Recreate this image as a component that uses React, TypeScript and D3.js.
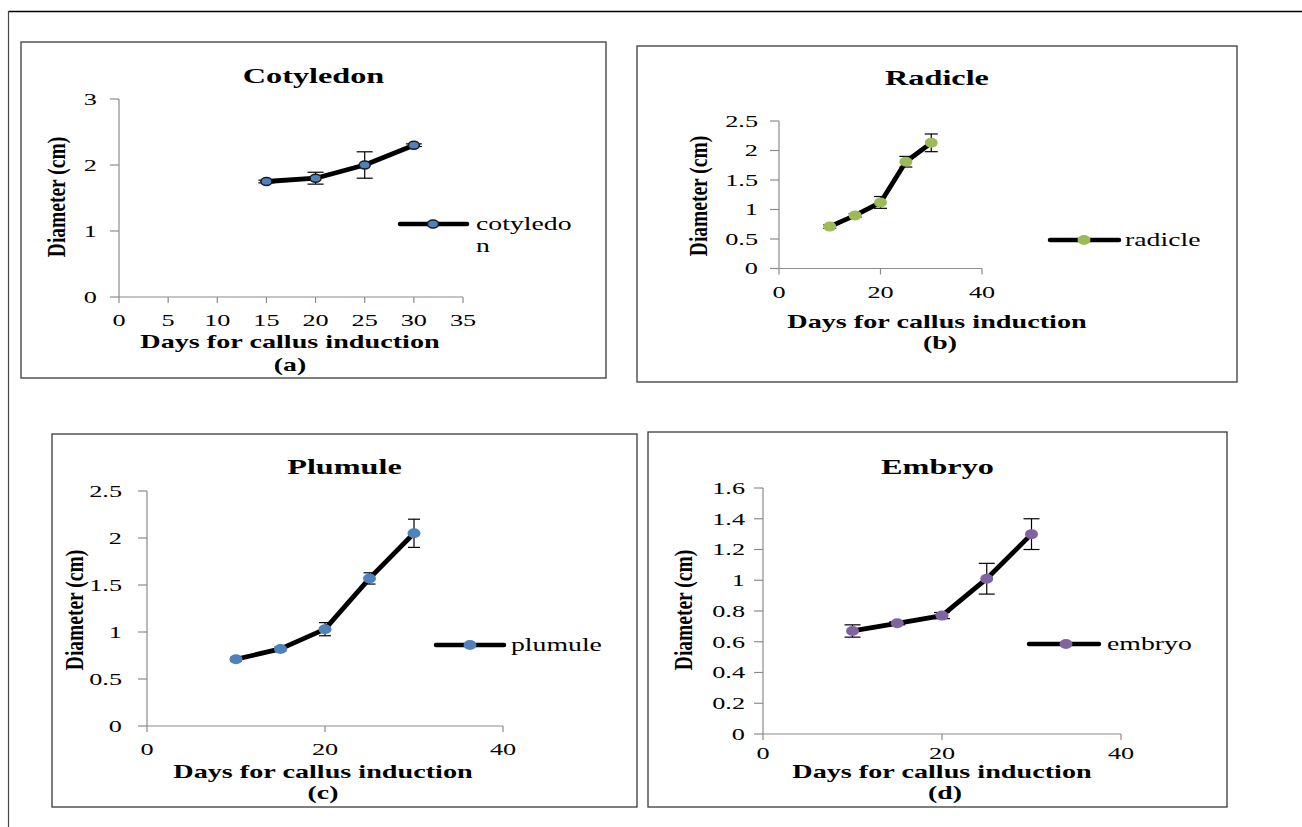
import React from "react";
import * as d3 from "d3";

// ---------- data ----------
const cotyledonDays = [15, 20, 25, 30];
const cotyledonValues = [1.75, 1.8, 2.0, 2.3];
const cotyledonErr = [0.02, 0.09, 0.2, 0.02];

const days = [10, 15, 20, 25, 30];
const radicleValues = [0.71, 0.9, 1.12, 1.81, 2.13];
const radicleErr = [0.03, 0.03, 0.1, 0.09, 0.15];

const plumuleValues = [0.71, 0.82, 1.03, 1.57, 2.05];
const plumuleErr = [0.02, 0.02, 0.07, 0.06, 0.15];

const embryoValues = [0.67, 0.72, 0.77, 1.01, 1.3];
const embryoErr = [0.04, 0.01, 0.02, 0.1, 0.1];

const xTicksA = [0, 5, 10, 15, 20, 25, 30, 35];
const yTicksA = [0, 1, 2, 3];
const xTicksB = [0, 20, 40];
const yTicksB = [0, 0.5, 1, 1.5, 2, 2.5];
const yTicksD = [0, 0.2, 0.4, 0.6, 0.8, 1, 1.2, 1.4, 1.6];

const titles = ["Cotyledon", "Radicle", "Plumule", "Embryo"];
const legendNames = [["cotyledo", "n"], ["radicle"], ["plumule"], ["embryo"]];
const subLabels = ["(a)", "(b)", "(c)", "(d)"];
const xAxisLabel = "Days for callus induction";
const yAxisLabel = "Diameter (cm)";

const FONT = "'Liberation Serif', 'Times New Roman', serif";
const SX = 1.5;

type TProps = {
  x: number; y: number; text: string; size: number; bold?: boolean;
  anchor?: "start" | "middle" | "end"; rotate?: boolean; sx?: number;
};
function T({ x, y, text, size, bold, anchor = "middle", rotate, sx = SX }: TProps) {
  return (
    <g transform={`translate(${x},${y}) scale(${sx},1)${rotate ? " rotate(-90)" : ""}`}>
      <text
        textAnchor={anchor}
        dominantBaseline="central"
        fontFamily={FONT}
        fontSize={size}
        fontWeight={bold ? "bold" : "normal"}
        fill="#000"
      >
        {text}
      </text>
    </g>
  );
}

type PanelCfg = {
  box: [number, number, number, number];
  xDomain: [number, number]; xRange: [number, number];
  yDomain: [number, number]; yRange: [number, number];
  xTicks: number[]; yTicks: number[];
  xs: number[]; ys: number[]; errs: number[];
  title: [number, number]; xTickY: number; xLabel: [number, number];
  sub: [number, number]; yLabel: [number, number]; yTickRight: number;
  legend: { x1: number; x2: number; y: number; mx: number; tx: number };
  color: string; mStroke: string | null; rx: number; ry: number; cap: number;
  idx: number;
};

function Panel({ c }: { c: PanelCfg }) {
  const x = d3.scaleLinear().domain(c.xDomain).range(c.xRange);
  const y = d3.scaleLinear().domain(c.yDomain).range(c.yRange);
  const pts: [number, number][] = c.xs.map((d, i) => [x(d), y(c.ys[i])]);
  const line = d3.line().curve(d3.curveLinear)(pts) || "";
  const [bx0, by0, bx1, by1] = c.box;
  const axisColor = "#8c8c8c";
  const fmt = (v: number) => String(+v.toFixed(2));
  return (
    <g>
      <rect x={bx0} y={by0} width={bx1 - bx0} height={by1 - by0} fill="#fff" stroke="#3a3a3a" strokeWidth={1.3} />
      <T x={c.title[0]} y={c.title[1]} text={titles[c.idx]} size={21.5} bold />
      {/* y axis */}
      <line x1={x(c.xDomain[0])} x2={x(c.xDomain[0])} y1={y(c.yDomain[0])} y2={y(c.yDomain[1])} stroke={axisColor} strokeWidth={1.2} />
      {c.yTicks.map((t) => (
        <g key={"y" + t}>
          <line x1={x(c.xDomain[0]) - 9} x2={x(c.xDomain[0])} y1={y(t)} y2={y(t)} stroke={axisColor} strokeWidth={1.2} />
          <T x={c.yTickRight} y={y(t)} text={fmt(t)} size={17.5} anchor="end" />
        </g>
      ))}
      {/* x axis */}
      <line x1={x(c.xDomain[0])} x2={x(c.xDomain[1])} y1={y(c.yDomain[0])} y2={y(c.yDomain[0])} stroke={axisColor} strokeWidth={1.2} />
      {c.xTicks.map((t) => (
        <g key={"x" + t}>
          <line x1={x(t)} x2={x(t)} y1={y(c.yDomain[0])} y2={y(c.yDomain[0]) + 6} stroke={axisColor} strokeWidth={1.2} />
          <T x={x(t)} y={c.xTickY} text={fmt(t)} size={17.5} />
        </g>
      ))}
      <T x={c.xLabel[0]} y={c.xLabel[1]} text={xAxisLabel} size={18.8} bold />
      <T x={c.sub[0]} y={c.sub[1]} text={subLabels[c.idx]} size={18.5} bold />
      <T x={c.yLabel[0]} y={c.yLabel[1]} text={yAxisLabel} size={19.5} bold rotate sx={1.3} />
      {/* series line */}
      <path d={line} fill="none" stroke="#000" strokeWidth={4.8} strokeLinejoin="round" strokeLinecap="round" />
      {/* error bars */}
      {c.xs.map((d, i) => {
        const cx = x(d);
        const yt = y(c.ys[i] + c.errs[i]);
        const yb = y(c.ys[i] - c.errs[i]);
        return (
          <g key={"e" + i} stroke="#000" strokeWidth={1.2}>
            <line x1={cx} x2={cx} y1={yt} y2={yb} />
            <line x1={cx - c.cap} x2={cx + c.cap} y1={yt} y2={yt} />
            <line x1={cx - c.cap} x2={cx + c.cap} y1={yb} y2={yb} />
          </g>
        );
      })}
      {pts.map((p, i) => (
        <ellipse key={"m" + i} cx={p[0]} cy={p[1]} rx={c.rx} ry={c.ry} fill={c.color}
          stroke={c.mStroke || "none"} strokeWidth={c.mStroke ? 1.5 : 0} />
      ))}
      {/* legend */}
      <line x1={c.legend.x1} x2={c.legend.x2} y1={c.legend.y} y2={c.legend.y} stroke="#000" strokeWidth={4.5} strokeLinecap="round" />
      <ellipse cx={c.legend.mx} cy={c.legend.y} rx={c.rx} ry={c.ry} fill={c.color}
        stroke={c.mStroke || "none"} strokeWidth={c.mStroke ? 1.5 : 0} />
      {legendNames[c.idx].map((s, i) => (
        <T key={"l" + i} x={c.legend.tx} y={c.legend.y + i * 22} text={s} size={18.5} anchor="start" />
      ))}
    </g>
  );
}

export default function App() {
  const panels: PanelCfg[] = [
    {
      idx: 0, box: [21, 42, 606, 378], xDomain: [0, 35], xRange: [119, 463], yDomain: [0, 3], yRange: [297, 99],
      xTicks: xTicksA, yTicks: yTicksA, xs: cotyledonDays, ys: cotyledonValues, errs: cotyledonErr,
      title: [313.5, 76], xTickY: 320, xLabel: [290, 342], sub: [290, 365], yLabel: [57, 197], yTickRight: 97,
      legend: { x1: 400, x2: 467, y: 224, mx: 433, tx: 476 }, color: "#4F81BD", mStroke: "#1a1a1a", rx: 5.5, ry: 4, cap: 8,
    },
    {
      idx: 1, box: [637, 46, 1237, 382], xDomain: [0, 40], xRange: [779, 982], yDomain: [0, 2.5], yRange: [268.5, 121],
      xTicks: xTicksB, yTicks: yTicksB, xs: days, ys: radicleValues, errs: radicleErr,
      title: [937, 78], xTickY: 292, xLabel: [937, 322], sub: [940, 343], yLabel: [699, 196], yTickRight: 758,
      legend: { x1: 1050, x2: 1119, y: 240, mx: 1084, tx: 1125 }, color: "#9BBB59", mStroke: null, rx: 6.5, ry: 5, cap: 6.5,
    },
    {
      idx: 2, box: [52, 434, 637, 807], xDomain: [0, 40], xRange: [147, 503], yDomain: [0, 2.5], yRange: [726, 491],
      xTicks: xTicksB, yTicks: yTicksB, xs: days, ys: plumuleValues, errs: plumuleErr,
      title: [344.5, 467], xTickY: 749, xLabel: [323, 772], sub: [323, 793], yLabel: [75, 610], yTickRight: 122,
      legend: { x1: 436, x2: 504, y: 645, mx: 470, tx: 511 }, color: "#4F81BD", mStroke: null, rx: 6.5, ry: 5, cap: 6,
    },
    {
      idx: 3, box: [648, 432, 1227, 807], xDomain: [0, 40], xRange: [763, 1121], yDomain: [0, 1.6], yRange: [734, 488],
      xTicks: xTicksB, yTicks: yTicksD, xs: days, ys: embryoValues, errs: embryoErr,
      title: [937.5, 467], xTickY: 753, xLabel: [942, 772], sub: [945, 793], yLabel: [683.5, 610], yTickRight: 745,
      legend: { x1: 1029, x2: 1099, y: 644, mx: 1066, tx: 1107 }, color: "#8064A2", mStroke: null, rx: 6.5, ry: 5, cap: 8,
    },
  ];
  return (
    <svg width={1302} height={827} style={{ position: "absolute", left: 0, top: 0, background: "#fff" }}>
      <rect x={0} y={0} width={1302} height={827} fill="#fff" />
      <line x1={8.5} x2={1302} y1={11.5} y2={11.5} stroke="#000" strokeWidth={1.5} />
      <line x1={8.5} x2={8.5} y1={11} y2={827} stroke="#444" strokeWidth={1.2} />
      {panels.map((p) => (
        <Panel key={p.idx} c={p} />
      ))}
    </svg>
  );
}
